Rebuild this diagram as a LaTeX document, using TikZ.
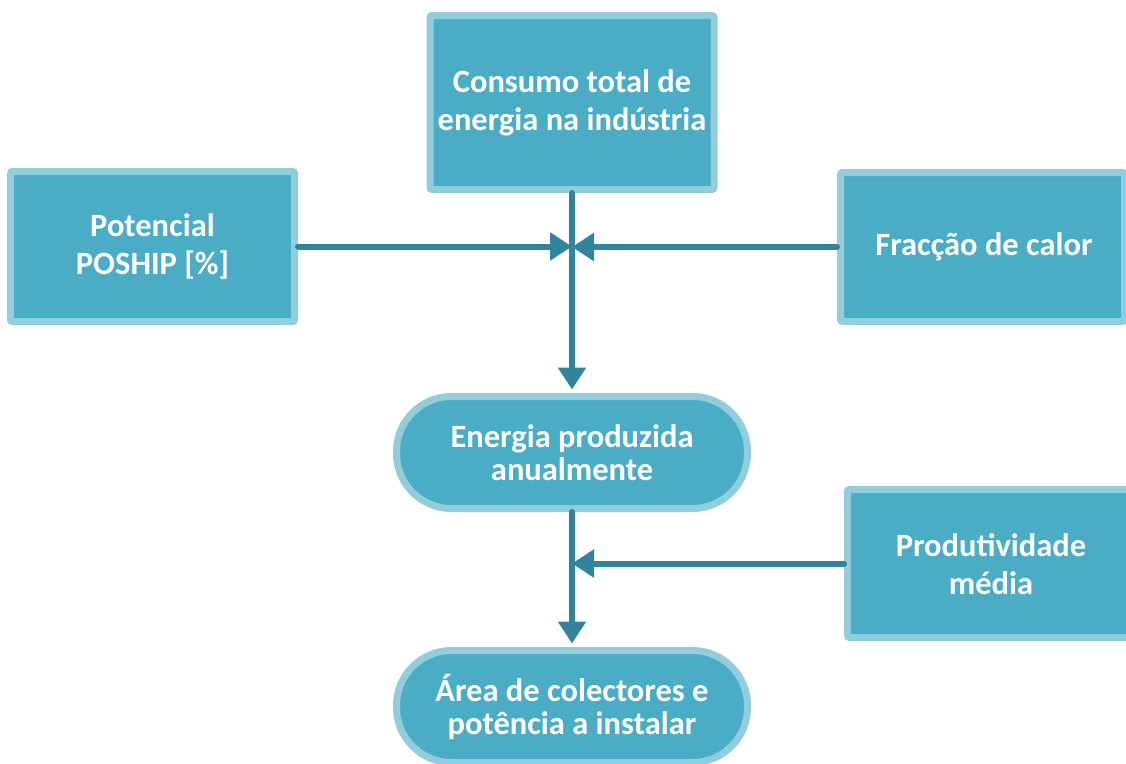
\documentclass[tikz,border=0pt]{standalone}
\usepackage{fontspec}
\setmainfont{Carlito}
\usetikzlibrary{arrows.meta}
\definecolor{boxfill}{HTML}{4BACC6}
\definecolor{boxedge}{HTML}{92CDDC}
\definecolor{arrowcol}{HTML}{31849B}
\begin{document}
\begin{tikzpicture}[x=1pt,y=1pt,
  txt/.style={text=white,font=\fontsize{32.5}{38}\selectfont\bfseries,align=center},
  ptxt/.style={text=white,font=\fontsize{32.5}{33}\selectfont\bfseries,align=center},
  sqbox/.style={txt,draw=boxedge,fill=boxfill,line width=7pt,rounded corners=2pt,inner sep=0pt},
  pill/.style={ptxt,draw=boxedge,fill=boxfill,line width=7pt,rounded corners=55pt,inner sep=0pt,minimum width=351pt,minimum height=112pt},
  conn/.style={draw=arrowcol,line width=6pt,line cap=round},
  tip/.style={-{Triangle[length=22pt,width=27pt]}}
]
\useasboundingbox (0,0) rectangle (1126,-763);
\node[sqbox,minimum width=284pt,minimum height=174pt] (top) at (572,-102.5) {Consumo total de\\energia na indústria};
\node[sqbox,minimum width=284pt,minimum height=150pt] (left) at (152.5,-246.5) {Potencial\\POSHIP [\%]};
\node[sqbox,minimum width=284pt,minimum height=149pt] (right) at (982.5,-247) {};
\node[txt] (righttxt) at (984,-247) {Fracção de calor};
\node[sqbox,minimum width=284pt,minimum height=148pt] (prod) at (989.5,-563.5) {};
\node[txt] (prodtxt) at (991,-564) {Produtividade\\média};
\node[pill] (ener) at (572,-452.5) {Energia produzida\\anualmente};
\node[pill] (area) at (572,-706.5) {Área de colectores e\\potência a instalar};
\coordinate (j1) at (572,-246);
\coordinate (j2) at (572,-563);
\draw[conn,tip] (top.south) -- ([yshift=3.5pt]ener.north);
\draw[conn,tip] (left.east) -- (left.east -| j1);
\draw[conn,tip] (right.west) -- (right.west -| j1);
\draw[conn,tip] (ener.south) -- ([yshift=3.5pt]area.north);
\draw[conn,tip] (prod.west) -- (prod.west -| j2);
\end{tikzpicture}
\end{document}
